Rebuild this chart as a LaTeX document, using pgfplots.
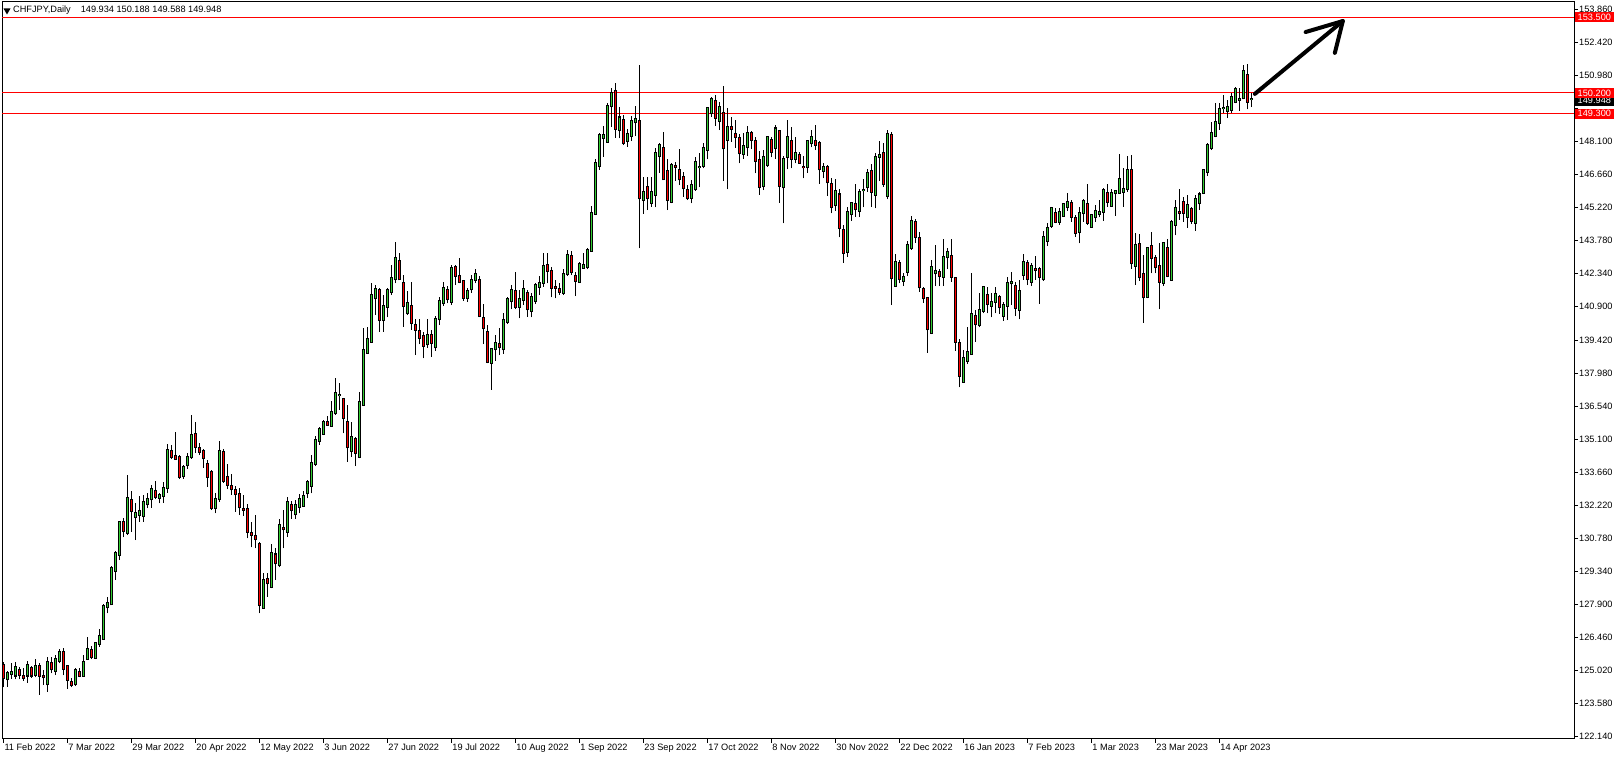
\documentclass[border=0pt]{standalone}
\usepackage{fontspec}
\setmainfont{Liberation Sans}
\usepackage{pgfplots}
\usepackage{pgfplotstable}
\pgfplotsset{compat=1.18}
\definecolor{bull}{RGB}{50,205,50}
\definecolor{bear}{RGB}{255,0,0}
\newcommand{\tickfont}{\fontsize{9.2}{10}\selectfont}

\pgfplotstableread{
i o h l c
0 125.22 125.38 124.26 124.66
1 124.61 124.99 124.29 124.90
2 124.84 125.31 124.64 124.93
3 124.78 125.35 124.61 125.13
4 125.02 125.16 124.61 124.80
5 124.76 125.12 124.55 124.68
6 124.78 125.42 124.46 125.22
7 125.10 125.19 124.68 124.78
8 124.81 125.48 124.70 125.19
9 125.19 125.31 123.94 124.77
10 124.74 125.02 124.36 124.70
11 124.39 125.60 124.07 125.35
12 125.31 125.57 124.87 125.05
13 124.99 125.66 124.80 125.48
14 125.42 125.92 125.31 125.79
15 125.79 125.96 124.78 125.08
16 125.18 125.23 124.20 124.58
17 124.48 124.65 124.26 124.36
18 124.39 125.12 124.32 125.02
19 124.92 125.09 124.70 124.77
20 124.77 125.66 124.73 125.39
21 125.51 126.44 125.45 125.92
22 125.89 126.06 125.48 125.57
23 125.55 126.25 125.50 126.18
24 126.17 126.79 126.04 126.49
25 126.38 127.91 126.38 127.80
26 127.75 128.19 127.49 127.94
27 127.88 129.57 127.85 129.47
28 129.35 130.22 128.94 130.11
29 130.04 131.50 129.82 131.48
30 131.48 131.65 130.81 131.10
31 131.01 133.53 130.91 132.51
32 132.44 132.83 131.05 131.96
33 131.71 132.29 130.69 131.86
34 131.78 132.63 131.49 131.96
35 131.75 132.65 131.49 132.33
36 132.25 132.76 132.07 132.48
37 132.47 133.09 132.10 132.90
38 132.83 133.26 132.47 132.58
39 132.54 132.76 132.29 132.65
40 132.61 133.24 132.32 132.95
41 132.95 134.88 132.76 134.62
42 134.57 134.84 134.21 134.33
43 134.36 135.42 134.21 134.24
44 134.30 134.40 133.35 133.45
45 133.47 133.96 133.37 133.86
46 133.95 134.47 133.80 134.33
47 134.30 136.16 134.24 135.27
48 135.32 135.83 134.50 134.76
49 134.69 134.91 134.40 134.55
50 134.57 134.65 133.85 134.25
51 134.01 134.18 133.02 133.46
52 133.64 133.75 132.00 132.07
53 132.10 132.76 131.85 132.47
54 132.47 135.01 132.36 134.58
55 134.53 134.65 133.19 133.28
56 133.43 133.99 132.90 133.09
57 133.05 133.56 132.65 132.90
58 132.87 133.05 131.93 132.70
59 132.70 132.95 131.78 132.12
60 132.03 132.66 131.74 132.00
61 132.03 132.26 130.76 131.05
62 130.98 131.49 130.37 130.92
63 130.86 131.78 130.33 130.72
64 130.52 130.60 127.49 127.85
65 127.74 129.24 127.70 128.94
66 128.97 129.26 128.22 128.80
67 128.65 130.54 128.58 130.11
68 130.06 130.33 128.94 129.67
69 129.60 131.59 129.50 131.35
70 131.20 132.00 130.33 131.16
71 131.05 132.58 130.84 132.36
72 132.20 132.41 131.62 132.00
73 131.81 132.44 131.62 132.20
74 132.15 132.70 131.85 132.47
75 132.19 132.84 132.15 132.63
76 132.73 133.31 132.51 133.21
77 133.06 134.40 132.73 134.04
78 134.01 135.23 133.92 135.04
79 135.03 135.64 134.84 135.52
80 135.33 135.93 135.27 135.83
81 135.84 136.10 135.67 135.72
82 135.68 136.74 135.64 136.26
83 136.22 137.75 136.15 137.09
84 137.01 137.56 136.36 137.03
85 136.83 136.90 135.35 136.00
86 135.83 136.58 134.11 134.73
87 134.59 135.86 134.33 135.17
88 135.08 135.20 133.92 134.50
89 134.33 137.14 134.26 136.73
90 136.58 139.93 136.54 138.98
91 138.87 140.00 138.84 139.45
92 139.35 141.89 139.30 141.37
93 141.24 141.82 140.51 141.63
94 141.60 141.67 139.78 140.29
95 140.29 141.38 139.78 140.90
96 140.87 141.70 140.41 141.60
97 141.50 142.69 141.38 142.11
98 142.07 143.68 141.89 142.98
99 142.87 143.23 142.04 142.07
100 141.89 142.26 140.00 140.90
101 140.58 141.56 140.51 141.02
102 140.90 141.94 139.86 140.17
103 140.07 140.32 138.76 139.87
104 139.80 140.32 139.23 139.52
105 139.59 139.78 138.62 139.17
106 139.23 140.32 139.08 139.66
107 139.66 139.85 138.69 139.30
108 139.10 140.46 138.95 140.32
109 140.32 141.31 140.07 141.12
110 141.02 141.95 140.90 141.71
111 141.60 141.77 141.02 141.19
112 141.09 142.69 140.94 142.56
113 142.60 142.69 141.82 142.22
114 142.20 143.02 141.89 141.96
115 141.99 142.06 141.13 141.26
116 141.26 141.71 141.09 141.55
117 141.63 142.25 141.48 142.06
118 142.06 142.50 141.89 142.30
119 142.06 142.21 140.41 140.46
120 140.36 140.97 139.24 139.93
121 139.75 140.06 138.40 138.47
122 138.43 139.05 137.26 139.01
123 139.01 139.62 138.51 139.27
124 139.24 139.93 138.76 139.10
125 139.01 140.61 138.83 140.29
126 140.22 141.31 140.11 141.23
127 141.12 141.82 140.76 141.60
128 141.55 142.40 140.76 140.87
129 140.87 141.60 140.36 141.19
130 141.16 142.06 140.94 141.63
131 141.48 141.60 140.43 140.76
132 140.70 141.45 140.41 141.28
133 141.13 141.89 140.99 141.80
134 141.74 142.21 141.38 141.89
135 141.92 143.23 141.74 142.65
136 142.68 143.23 141.89 142.44
137 142.43 142.62 141.28 141.70
138 141.73 142.04 141.24 141.70
139 141.64 141.89 141.38 141.53
140 141.48 142.50 141.38 142.30
141 142.30 143.37 142.21 143.13
142 143.08 143.32 142.25 142.37
143 142.21 142.40 141.34 142.01
144 141.96 142.84 141.96 142.72
145 142.57 143.23 142.54 142.69
146 142.59 143.42 142.50 143.34
147 143.32 145.26 143.27 144.97
148 144.92 147.30 144.87 147.13
149 147.01 148.47 146.84 148.35
150 148.25 148.76 147.42 148.35
151 148.07 149.77 148.03 149.63
152 149.63 150.40 148.73 150.18
153 150.28 150.65 148.25 148.65
154 148.58 149.60 148.22 149.13
155 149.02 149.24 147.93 148.03
156 148.10 148.61 147.85 148.39
157 148.33 149.19 148.10 148.97
158 148.92 149.63 148.32 149.06
159 148.97 151.42 143.42 145.60
160 145.53 146.52 144.92 145.89
161 146.11 146.52 145.09 145.60
162 145.41 146.52 145.24 145.89
163 145.74 147.78 145.21 147.56
164 147.45 148.03 146.72 147.93
165 147.78 148.51 146.40 146.43
166 146.79 147.30 145.09 145.53
167 145.45 147.16 145.38 147.05
168 147.01 147.20 146.37 146.97
169 146.84 147.74 146.18 146.43
170 146.54 146.76 145.67 146.04
171 145.96 146.18 145.53 145.60
172 145.63 146.40 145.38 146.17
173 145.99 147.39 145.93 147.17
174 146.96 147.56 146.08 146.97
175 147.03 148.00 146.91 147.78
176 147.71 149.60 147.30 149.53
177 149.31 150.04 149.16 149.92
178 149.86 150.11 148.77 149.12
179 148.99 149.82 148.58 149.57
180 149.31 150.50 146.37 147.78
181 148.14 149.53 145.99 148.73
182 148.70 149.16 148.07 148.63
183 148.41 149.02 147.81 148.29
184 148.22 148.41 147.13 147.56
185 147.52 148.44 147.34 147.88
186 147.83 148.76 147.45 148.44
187 148.44 148.55 147.74 148.14
188 148.10 148.29 146.69 147.24
189 147.27 147.68 145.75 146.11
190 146.15 147.71 145.96 147.39
191 147.05 148.32 146.98 148.26
192 148.15 148.29 147.39 147.64
193 147.81 148.80 147.34 148.65
194 148.54 148.58 145.41 146.15
195 146.08 147.45 144.51 147.30
196 147.42 149.02 146.87 148.26
197 148.10 148.73 146.91 147.34
198 147.34 148.29 147.13 147.56
199 147.49 147.64 147.13 147.16
200 146.97 147.45 146.47 146.95
201 146.95 148.15 146.72 148.10
202 148.00 148.58 147.83 148.26
203 148.12 148.80 147.71 147.93
204 148.00 148.10 146.25 146.87
205 146.81 147.13 146.47 146.95
206 146.98 147.05 145.70 146.30
207 146.23 146.50 144.95 145.24
208 145.31 146.45 145.06 145.92
209 145.77 145.99 143.90 144.32
210 144.22 144.44 142.79 143.23
211 143.27 145.21 143.05 144.99
212 144.90 145.45 144.63 145.38
213 145.35 146.23 144.80 145.12
214 145.06 145.99 144.77 145.89
215 145.95 146.45 145.21 145.97
216 146.08 146.90 145.89 146.70
217 146.80 147.10 145.24 145.89
218 145.75 147.60 145.16 147.40
219 147.40 148.10 146.35 147.50
220 147.60 148.00 146.10 146.25
221 145.70 148.60 145.56 148.40
222 148.35 148.50 140.94 142.11
223 141.79 143.17 141.79 142.81
224 142.76 142.91 141.89 142.08
225 142.01 142.33 141.77 142.18
226 142.40 143.74 142.21 143.55
227 143.42 144.83 143.37 144.63
228 144.58 144.68 143.67 143.93
229 143.88 144.15 141.53 141.72
230 141.64 141.72 141.05 141.24
231 141.24 141.28 138.86 139.88
232 139.74 142.91 139.68 142.59
233 142.33 143.56 141.77 142.44
234 142.37 142.50 141.77 142.21
235 142.18 143.85 141.77 143.03
236 143.03 143.45 142.50 143.24
237 143.10 143.81 141.96 142.18
238 142.11 142.15 138.95 139.34
239 139.27 139.45 137.35 137.86
240 137.60 138.98 137.55 138.62
241 138.51 140.00 138.37 138.91
242 138.80 142.36 138.78 140.54
243 140.46 140.73 139.34 140.10
244 140.07 141.48 139.97 140.73
245 140.70 141.77 140.58 141.72
246 141.38 141.72 140.58 140.99
247 140.92 141.45 140.41 141.06
248 141.09 141.74 140.58 141.42
249 141.28 141.38 140.55 140.84
250 140.48 141.09 140.26 140.94
251 140.92 142.18 140.29 141.89
252 141.89 142.40 140.94 141.94
253 141.77 141.96 140.46 140.83
254 140.73 142.04 140.32 141.55
255 142.26 143.17 142.04 142.81
256 142.76 142.91 141.82 142.08
257 141.96 142.76 141.77 142.65
258 142.54 143.08 142.04 142.47
259 142.50 142.59 141.00 142.18
260 142.07 144.19 142.01 143.90
261 143.75 144.51 143.52 144.29
262 144.41 145.24 144.33 145.16
263 144.95 145.16 144.51 144.58
264 144.58 145.16 144.44 145.02
265 144.83 145.41 144.80 145.35
266 145.24 145.82 145.06 145.45
267 145.42 145.53 144.58 144.80
268 144.73 144.87 143.93 144.10
269 144.15 145.24 143.64 144.95
270 144.95 145.56 144.58 145.48
271 145.34 146.23 144.44 144.54
272 144.36 144.92 144.33 144.87
273 144.77 145.31 144.58 145.03
274 144.92 145.53 144.77 145.02
275 145.02 146.04 144.62 145.96
276 145.82 146.25 145.24 145.45
277 145.27 146.00 145.24 145.82
278 145.82 145.92 144.84 145.92
279 145.85 147.53 145.85 146.43
280 145.89 146.91 145.24 145.99
281 145.99 147.45 145.89 146.84
282 146.84 147.49 142.54 142.76
283 142.66 144.07 141.82 143.56
284 143.61 144.03 142.01 142.15
285 142.30 143.13 140.17 141.28
286 141.31 143.49 141.24 143.42
287 143.52 144.12 142.33 143.02
288 143.02 143.13 142.33 142.59
289 142.65 143.64 140.76 141.96
290 141.92 143.71 141.77 143.67
291 143.42 143.85 142.15 142.21
292 142.04 144.65 142.01 144.58
293 144.44 145.53 143.99 145.16
294 144.99 145.99 144.66 144.96
295 145.45 145.67 144.58 144.98
296 144.80 145.75 144.33 145.31
297 145.12 145.24 144.48 144.62
298 144.54 145.75 144.19 145.56
299 145.38 145.89 145.09 145.77
300 145.85 146.87 145.79 146.84
301 146.76 148.03 146.57 147.91
302 147.78 148.95 147.71 148.44
303 148.32 149.75 148.26 148.92
304 148.88 149.78 148.59 149.50
305 149.53 150.11 149.31 149.55
306 149.43 149.90 149.10 149.60
307 149.46 150.19 149.31 150.04
308 149.82 150.45 149.75 150.36
309 149.90 150.41 149.43 149.92
310 149.97 151.42 149.92 151.16
311 150.99 151.47 149.49 149.82
312 149.934 150.188 149.588 149.948
}\ohlc

\begin{document}
\begin{tikzpicture}
\useasboundingbox (0pt,0pt) rectangle (1620pt,760pt);
\begin{axis}[
  at={(2pt,21pt)}, anchor=south west,
  scale only axis, width=1572pt, height=737pt,
  xmin=-0.325, xmax=392.7, ymin=122.009, ymax=154.171,
  enlargelimits=false, clip mode=individual,
  axis line style={black, line width=1pt},
  tick align=outside, xtick pos=left, ytick pos=right,
  yticklabel pos=right,
  major tick length=4pt,
  tick style={black, line width=0.8pt},
  tick label style={font=\tickfont, text=black},
  xtick={0,16,32,48,64,80,96,112,128,144,160,176,192,208,224,240,256,272,288,304},
  xticklabels={11 Feb 2022,7 Mar 2022,29 Mar 2022,20 Apr 2022,12 May 2022,3 Jun 2022,27 Jun 2022,19 Jul 2022,10 Aug 2022,1 Sep 2022,23 Sep 2022,17 Oct 2022,8 Nov 2022,30 Nov 2022,22 Dec 2022,16 Jan 2023,7 Feb 2023,1 Mar 2023,23 Mar 2023,14 Apr 2023},
  xticklabel style={anchor=north west, inner sep=0pt, xshift=1pt, yshift=-1pt},
  ytick={122.14,123.58,125.02,126.46,127.90,129.34,130.78,132.22,133.66,135.10,136.54,137.98,139.42,140.90,142.34,143.78,145.22,146.66,148.10,149.54,150.98,152.42,153.86},
  yticklabels={122.140,123.580,125.020,126.460,127.900,129.340,130.780,132.220,133.660,135.100,136.540,137.980,139.420,140.900,142.340,143.780,145.220,146.660,148.100,,150.980,152.420,153.860},
  yticklabel style={anchor=west, inner sep=0pt, xshift=1pt},
]
\draw[bear, line width=1pt] (axis cs:-0.325,153.5) -- (axis cs:392.7,153.5);
\draw[bear, line width=1pt] (axis cs:-0.325,150.2) -- (axis cs:392.7,150.2);
\draw[bear, line width=1pt] (axis cs:-0.325,149.3) -- (axis cs:392.7,149.3);
% wicks
\addplot[draw=none, forget plot, error bars/.cd, y dir=plus, y explicit, error mark=none,
  error bar style={draw=black, line width=1pt}]
  table[x=i, y=l, y error plus expr={\thisrow{h}-\thisrow{l}}] {\ohlc};
% body outlines
\addplot[draw=none, forget plot, error bars/.cd, y dir=plus, y explicit, error mark=none,
  error bar style={draw=black, line width=3pt, line cap=butt}]
  table[x=i, y expr={min(\thisrow{o},\thisrow{c})-0.044}, y error plus expr={abs(\thisrow{c}-\thisrow{o})+0.088}] {\ohlc};
% up bodies
\addplot[draw=none, forget plot, error bars/.cd, y dir=plus, y explicit, error mark=none,
  error bar style={draw=bull, line width=1.2pt, line cap=butt}]
  table[x=i, y=o, y error plus expr={max(\thisrow{c}-\thisrow{o},0)}] {\ohlc};
% down bodies
\addplot[draw=none, forget plot, error bars/.cd, y dir=plus, y explicit, error mark=none,
  error bar style={draw=bear, line width=1.2pt, line cap=butt}]
  table[x=i, y=c, y error plus expr={max(\thisrow{o}-\thisrow{c},0)}] {\ohlc};
% arrow annotation
\draw[black, line width=4pt, line cap=round, line join=round] (axis cs:312.9,150.16) -- (axis cs:334.9,153.34);
\draw[black, line width=4pt, line cap=round, line join=round] (axis cs:325.6,152.86) -- (axis cs:334.9,153.34) -- (axis cs:332.9,151.95);
\coordinate (lvA) at (axis cs:392.7,153.5);
\coordinate (lvB) at (axis cs:392.7,150.2);
\coordinate (lvC) at (axis cs:392.7,149.3);
\coordinate (cur) at (axis cs:392.7,149.948);
\end{axis}
\node[fill=black, text=white, font=\tickfont, anchor=west, inner xsep=3pt, inner ysep=1pt, minimum height=11pt] at ([xshift=0.5pt,yshift=-2pt]cur) {149.948};
\node[fill=bear, text=white, font=\tickfont, anchor=west, inner xsep=3pt, inner ysep=1pt, minimum height=10pt] at ([xshift=0.5pt]lvB) {150.200};
\node[fill=bear, text=white, font=\tickfont, anchor=west, inner xsep=3pt, inner ysep=1pt, minimum height=10pt] at ([xshift=0.5pt]lvC) {149.300};
\node[fill=bear, text=white, font=\tickfont, anchor=west, inner xsep=3pt, inner ysep=1pt, minimum height=10pt] at ([xshift=0.5pt]lvA) {153.500};
\fill[black] (3.5pt,751.5pt) -- (10.5pt,751.5pt) -- (7pt,745.5pt) -- cycle;
\node[anchor=west, inner sep=0pt, font=\tickfont] at (13pt,749.5pt) {CHFJPY,Daily\hspace{10pt}149.934 150.188 149.588 149.948};
\end{tikzpicture}
\end{document}
